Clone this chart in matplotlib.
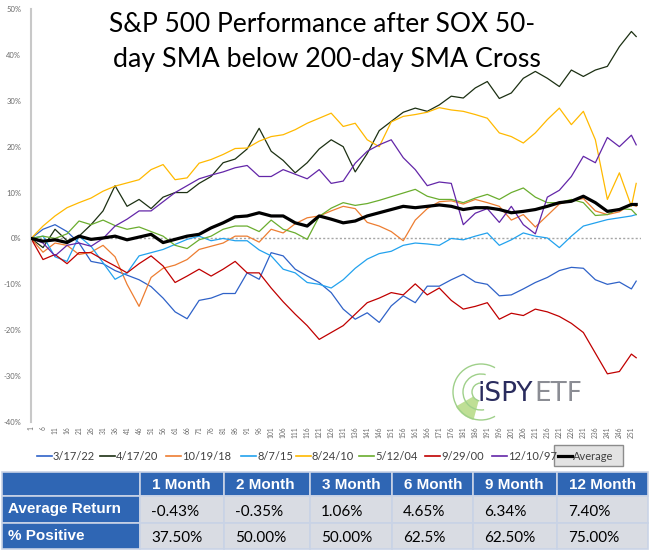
import matplotlib
matplotlib.use('Agg')
import matplotlib.pyplot as plt
from matplotlib.lines import Line2D
from matplotlib.patches import Rectangle, Arc, Wedge


# ----------------------------------------------------------------------------------- #
#                                        Data                                         #
# ----------------------------------------------------------------------------------- #

# trading day after the cross (sampled every 5 days)
days = list(range(1, 252, 5)) + [253]

ret_3_17_22 = [0, 2, 3, 1.5, -1, -5, -5.5, -7, -8, -9, -10.5, -13, -16, -17.5, -13.5, -13, -12, -12,
               -7.5, -8.9, -3.1, -3.8, -6.7, -8.2, -9.6, -11.8, -15.4, -17.6, -16.2, -18.3, -14.7, -12.5, -14, -10.4,
               -10.4, -9, -7.8, -9.5, -10, -12.5, -12.3, -11, -9.6, -8.5, -7, -6.3, -6.5, -9, -10, -9.5, -11, -9.3]
ret_4_17_20 = [0, -2, 2, -0.5, 0.5, 3, 6, 11.5, 7, 8.5, 6.5, 9, 10, 10, 12, 13.5, 16.5, 17.3,
               19.5, 24, 19, 17, 14.3, 16.5, 19.5, 21.5, 20, 14.5, 18.5, 23.5, 25.5, 27.5, 28.4, 27.7,
               29.1, 31, 30.6, 32.8, 34.2, 30.5, 31.7, 34.9, 36.4, 34.9, 33.1, 36.7, 35.3, 36.7, 37.5, 41.8, 45.1, 44]
ret_10_19_18 = [0, -3, -1, -1.5, -3.5, -3, -1.5, -4, -10, -14.8, -8.5, -6.5, -5.8, -4.6, -2.4, -1.7, -1, 0.5,
                0.5, -0.8, 2, 1.2, 3.2, 4.5, 4.9, 6, 7, 6.5, 3.5, 2.7, 1.5, -0.5, 4, 6.5,
                8, 8.2, 7.5, 8.5, 7.8, 7, 4, 5.2, 2.5, 5, 7.5, 8.2, 8.7, 6, 5.2, 5.8, 7.5, 7]
ret_8_7_15 = [0, 0.5, -4, -5, 0.5, -1.7, -5.3, -8.9, -7.5, -3.8, -3.1, -2.4, -1.3, -0.2, 0.5, -0.5, 0, -0.5,
              -0.5, -2.5, -3.8, -6.7, -7.5, -9.6, -10, -10.8, -9, -6.5, -4.5, -3.3, -2.8, -1.5, -1, -1.2,
              -1.5, 0, -0.3, 0.5, 1.2, -1.5, -0.3, 1.2, 0.5, 0.1, -2, 0.5, 2.7, 3.4, 4.1, 4.5, 4.9, 5.2]
ret_8_24_10 = [0, 2.7, 4.9, 6.7, 7.8, 8.8, 10.3, 11.4, 12.1, 12.8, 15, 16.1, 12.8, 13.2, 16.4, 17.2, 18.3, 19.6,
               19.7, 21.2, 22.2, 22.6, 23.7, 25.1, 26.2, 27.3, 24.4, 25.1, 21.5, 20, 25.4, 26.6, 27, 27.5,
               28.5, 28, 27.7, 27, 26.2, 23, 22.2, 20.8, 23, 25.9, 28.4, 24.8, 27.7, 21.5, 8.5, 14.3, 7, 12]
ret_5_12_04 = [0, 0.5, 0, 1, 3.8, 3, 4, 2.8, 2, 2.5, 1.5, 0.5, -1.5, -2.2, -0.3, 0.5, 2, 2.7,
               2.7, 1.5, 4, 2, 1.2, -0.2, 4.8, 6.6, 7.8, 7.2, 7.6, 8.3, 9.1, 9.9, 10.7, 9.2,
               8.5, 8.5, 7.8, 8.8, 9.6, 8.5, 10, 11, 9, 7.8, 7.8, 8.5, 7.8, 5, 5.2, 6.5, 6.3, 5.2]
ret_9_29_00 = [0, -4.6, -3.5, -5.5, -3.1, -3.1, -4.6, -6, -7.5, -5.5, -3.8, -6, -9.6, -8.2, -6.7, -8.2, -6.7, -5,
               -7.5, -7.5, -10.8, -13.8, -16.5, -19, -22, -20.5, -19, -16.5, -14, -13, -11.8, -12.3, -9.9, -12.3,
               -10.8, -13.5, -15.4, -14.8, -14, -17.6, -16.3, -16.8, -15.4, -16, -17, -18.5, -20.5, -25, -29.5, -29, -25.2, -26]
ret_12_10_97 = [0, -1, -3.8, -1.5, -1, -1.7, 0, 2.7, 4.2, 6, 6, 8, 10, 11.5, 13, 13.8, 14.5, 15.4,
                15.9, 13.5, 13.5, 15, 14, 13, 15, 12, 12.5, 16.4, 19, 20.4, 21.5, 17.6, 15, 11.5,
                12.3, 12, 3, 5.5, 6.5, 3.5, 7, 3, 1, 9, 10.5, 13.5, 17.9, 16.5, 22, 20, 22.5, 20.4]
ret_average = [0, -0.6, -0.3, -0.9, 0.5, -0.2, 0.1, 0.5, -0.3, 0.3, 0.9, -0.9, -0.2, 0.5, 0.9, 2.3, 3.4, 4.7,
               4.9, 5.6, 4.9, 4.9, 3.4, 2.7, 4.9, 4.2, 3.4, 3.8, 4.9, 5.6, 6.3, 7, 6.7, 7,
               7.3, 7, 6.3, 6.7, 6.7, 6.3, 5.6, 5.9, 6.3, 7, 7.8, 8.1, 9.2, 7.8, 5.9, 6.3, 7.4, 7.4]

series_labels = ['3/17/22', '4/17/20', '10/19/18', '8/7/15', '8/24/10', '5/12/04', '9/29/00', '12/10/97']
series_values = [ret_3_17_22, ret_4_17_20, ret_10_19_18, ret_8_7_15,
                 ret_8_24_10, ret_5_12_04, ret_9_29_00, ret_12_10_97]
series_colors = ['#2F62C8', '#1C3013', '#ED7D31', '#22A2EE', '#FFB900', '#6AAD2E', '#C00000', '#6326A8']

# summary table
table_columns = ['1 Month', '2 Month', '3 Month', '6 Month', '9 Month', '12 Month']
table_rows = ['Average Return', '% Positive']
avg_return = ['-0.43%', '-0.35%', '1.06%', '4.65%', '6.34%', '7.40%']
pct_positive = ['37.50%', '50.00%', '50.00%', '62.5%', '62.50%', '75.00%']

xtick_days = list(range(1, 252, 5))
ytick_values = list(range(-40, 51, 10))


# ----------------------------------------------------------------------------------- #
#                                     Figure                                          #
# ----------------------------------------------------------------------------------- #

W, H = 650, 553
plt.rcParams['font.family'] = ['Lato', 'DejaVu Sans']

fig = plt.figure(figsize=(W / 100, H / 100), dpi=100)
fig.patch.set_facecolor('white')

# main chart axes (pixel box: left 31, right 641, top 9, bottom 422)
ax = fig.add_axes([31 / W, 1 - 422 / H, 610 / W, 413 / H])
ax.set_xlim(1, 255)
ax.set_ylim(-40, 50)

ax.axhline(0, color='#a6a6a6', lw=1, ls=(0, (1.5, 1.5)), zorder=1)
for vals, col in zip(series_values, series_colors):
    ax.plot(days, vals, color=col, lw=0.9, zorder=2)
ax.plot(days, ret_average, color='black', lw=2.3, zorder=3)

for s in ['top', 'right', 'bottom']:
    ax.spines[s].set_visible(False)
ax.spines['left'].set_color('#c8c8c8')
ax.spines['left'].set_linewidth(1.5)

ax.set_xticks(xtick_days)
ax.set_xticklabels([str(d) for d in xtick_days], rotation=90, fontsize=4.8, color='#6a6a6a')
ax.set_yticks(ytick_values)
ax.set_yticklabels([f'{v}%' for v in ytick_values], fontsize=5.5, color='#6a6a6a')
ax.tick_params(axis='both', length=0)
ax.tick_params(axis='x', pad=3)
ax.tick_params(axis='y', pad=7)

# overlay in pixel coordinates for title, legend, logo and table
ov = fig.add_axes([0, 0, 1, 1], facecolor='none')
ov.set_xlim(0, W)
ov.set_ylim(H, 0)
ov.axis('off')

# title
ov.text(322, 32, 'S&P 500 Performance after SOX 50-', ha='center', va='baseline',
        fontsize=19, color='black')
ov.text(327, 67, 'day SMA below 200-day SMA Cross', ha='center', va='baseline',
        fontsize=19.3, color='black')

# legend
legend_x = [37, 100, 166, 241, 296, 359, 425, 492]
for lx, lab, col in zip(legend_x, series_labels, series_colors):
    ov.add_line(Line2D([lx, lx + 15], [456, 456], color=col, lw=1.2))
    ov.text(lx + 16, 456, lab, ha='left', va='center', fontsize=8, color='#404040')
ov.add_patch(Rectangle((554, 445), 69, 21, facecolor='#e3e3e3', edgecolor='#8c8c8c', lw=1))
ov.add_line(Line2D([558, 572], [456, 456], color='black', lw=2.3))
ov.text(573, 456, 'Average', ha='left', va='center', fontsize=8, color='#404040')

# logo
cx, cy = 481, 392
ov.add_patch(Wedge((cx, cy), 29, 105, 150, width=20, facecolor='#8cc63f', alpha=0.55,
                   edgecolor='none'))
ov.add_patch(Arc((cx, cy), 56, 56, theta1=60, theta2=300, color='#9fd08a', lw=1.0))
ov.add_patch(Arc((cx, cy), 36, 36, theta1=80, theta2=285, color='#9fd08a', lw=1.0))
ov.add_patch(Arc((cx, cy), 18, 18, theta1=100, theta2=265, color='#9fd08a', lw=1.0))
t_spy = ov.text(478, 401, 'iSPY', ha='left', va='baseline', fontsize=19, color='#2a2c5e',
                family='DejaVu Sans')
fig.canvas.draw()
bb = t_spy.get_window_extent()
etf_x = ov.transData.inverted().transform((bb.x1, bb.y0))[0]
ov.text(etf_x + 1, 401, 'ETF', ha='left', va='baseline', fontsize=19, color='#8b8d94',
        family='DejaVu Sans')

# table
col_edges = [2, 140, 224, 310, 392, 473, 557, 648]
row_edges = [472, 496, 523, 549]
blue = '#2F66B4'
cell_gray = '#D9DCE3'
for r in range(3):
    for c in range(7):
        x0, x1 = col_edges[c], col_edges[c + 1]
        y0, y1 = row_edges[r], row_edges[r + 1]
        fc = blue if (r == 0 or c == 0) else cell_gray
        ov.add_patch(Rectangle((x0, y0), x1 - x0, y1 - y0, facecolor=fc,
                               edgecolor='#c9d3e6', lw=1.2))

for c, name in enumerate(table_columns):
    ov.text(col_edges[c + 1] + 12, (row_edges[0] + row_edges[1]) / 2 + 1, name,
            ha='left', va='center', fontsize=11, color='white', fontweight='bold',
            family='Liberation Sans')
for r, name in enumerate(table_rows):
    ov.text(8, (row_edges[r + 1] + row_edges[r + 2]) / 2, name,
            ha='left', va='center', fontsize=11, color='white', fontweight='bold',
            family='Liberation Sans')
for r, row_vals in enumerate([avg_return, pct_positive]):
    for c, val in enumerate(row_vals):
        ov.text(col_edges[c + 1] + 11, (row_edges[r + 1] + row_edges[r + 2]) / 2 + 2, val,
                ha='left', va='center', fontsize=11, color='black')

fig.savefig('out.png', dpi=100, facecolor='white')
